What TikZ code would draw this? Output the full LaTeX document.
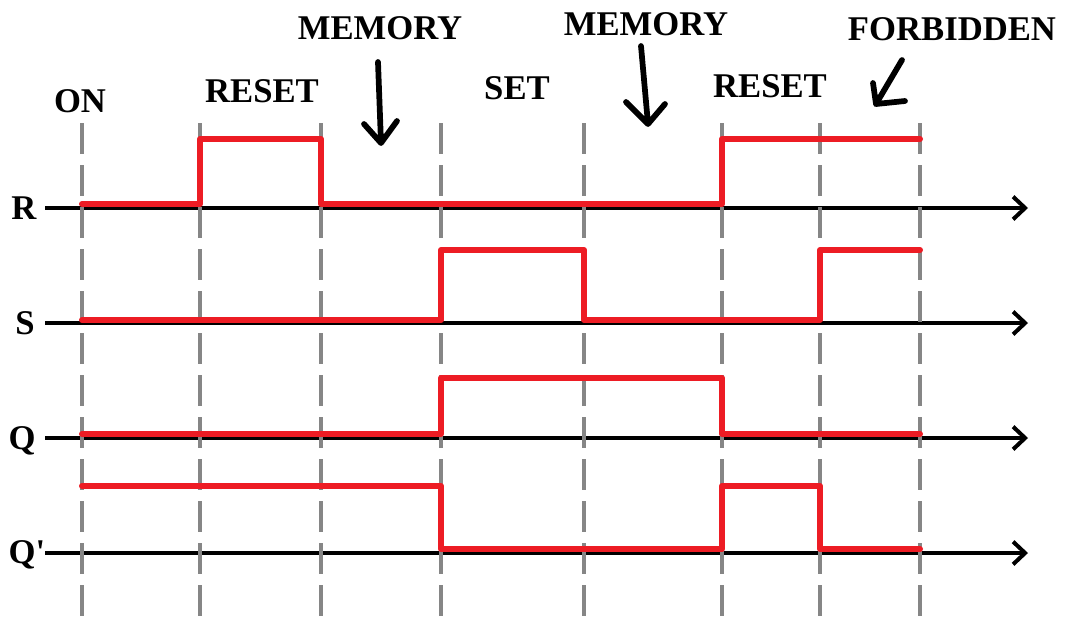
\documentclass[tikz,border=0pt]{standalone}
\usepackage{fontspec}
\setmainfont{Liberation Serif}
\usetikzlibrary{arrows.meta}

\definecolor{sigred}{RGB}{237,28,36}

\tikzset{
  lbl/.style={anchor=base, inner sep=0pt, font=\fontsize{26}{30}\selectfont\bfseries},
  timeaxis/.style={line width=2.6pt, -{Straight Barb[length=9pt,width=17pt,line width=3pt]}},
  guide/.style={draw=gray!95, line width=3pt, dash pattern=on 23pt off 8.5pt},
  wave/.style={draw=sigred, line width=4.5pt, line cap=round, line join=round},
  pen/.style={line width=4.3pt, line cap=round, line join=round}
}

\begin{document}
\begin{tikzpicture}[x=0.75pt, y=-0.75pt]
    \useasboundingbox (0, 0) rectangle (1065, 622);

    \node[lbl] (labR)  at (24, 219) {R};
    \node[lbl] (labS)  at (25, 334) {S};
    \node[lbl] (labQ)  at (22, 449) {Q};
    \node[lbl] (labQn) at (27, 563) {Q\textquotesingle};

    \draw[timeaxis] (45, 208) -- (1028, 208);
    \draw[timeaxis] (45, 323) -- (1028, 323);
    \draw[timeaxis] (45, 438) -- (1028, 438);
    \draw[timeaxis] (45, 553) -- (1028, 553);

    \foreach \t in {82, 200, 321, 441, 584, 722, 820, 920}
      \draw[guide] (\t, 123) -- (\t, 622);

    \draw[wave] (82, 204) -- (200, 204) -- (200, 139) -- (321, 139) -- (321, 204) -- (722, 204) -- (722, 139) -- (920, 139);
    \draw[wave] (82, 320) -- (441, 320) -- (441, 250) -- (584, 250) -- (584, 320) -- (820, 320) -- (820, 250) -- (920, 250);
    \draw[wave] (82, 434) -- (441, 434) -- (441, 378) -- (722, 378) -- (722, 434) -- (920, 434);
    \draw[wave] (82, 486) -- (441, 486) -- (441, 549) -- (722, 549) -- (722, 486) -- (820, 486) -- (820, 549) -- (920, 549);

    \node[lbl] (on)     at (80, 112)  {ON};
    \node[lbl] (reset)  at (262, 102) {RESET};
    \node[lbl] (mem)    at (380, 39)  {MEMORY};
    \node[lbl] (set)    at (517, 99)  {SET};
    \node[lbl] (memb)   at (646, 35)  {MEMORY};
    \node[lbl] (resetb) at (770, 97)  {RESET};
    \node[lbl] (forb)   at (952, 40)  {FORBIDDEN};

    \draw[pen] (378, 62) -- (381, 143)  (364, 124) -- (381, 143) -- (397, 121);
    \draw[pen] (641, 46) -- (648, 124)  (626, 102) -- (648, 124) -- (665, 104);
    \draw[pen] (902, 60) -- (876, 104)  (873, 83) -- (876, 104) -- (905, 101);
\end{tikzpicture}
\end{document}
